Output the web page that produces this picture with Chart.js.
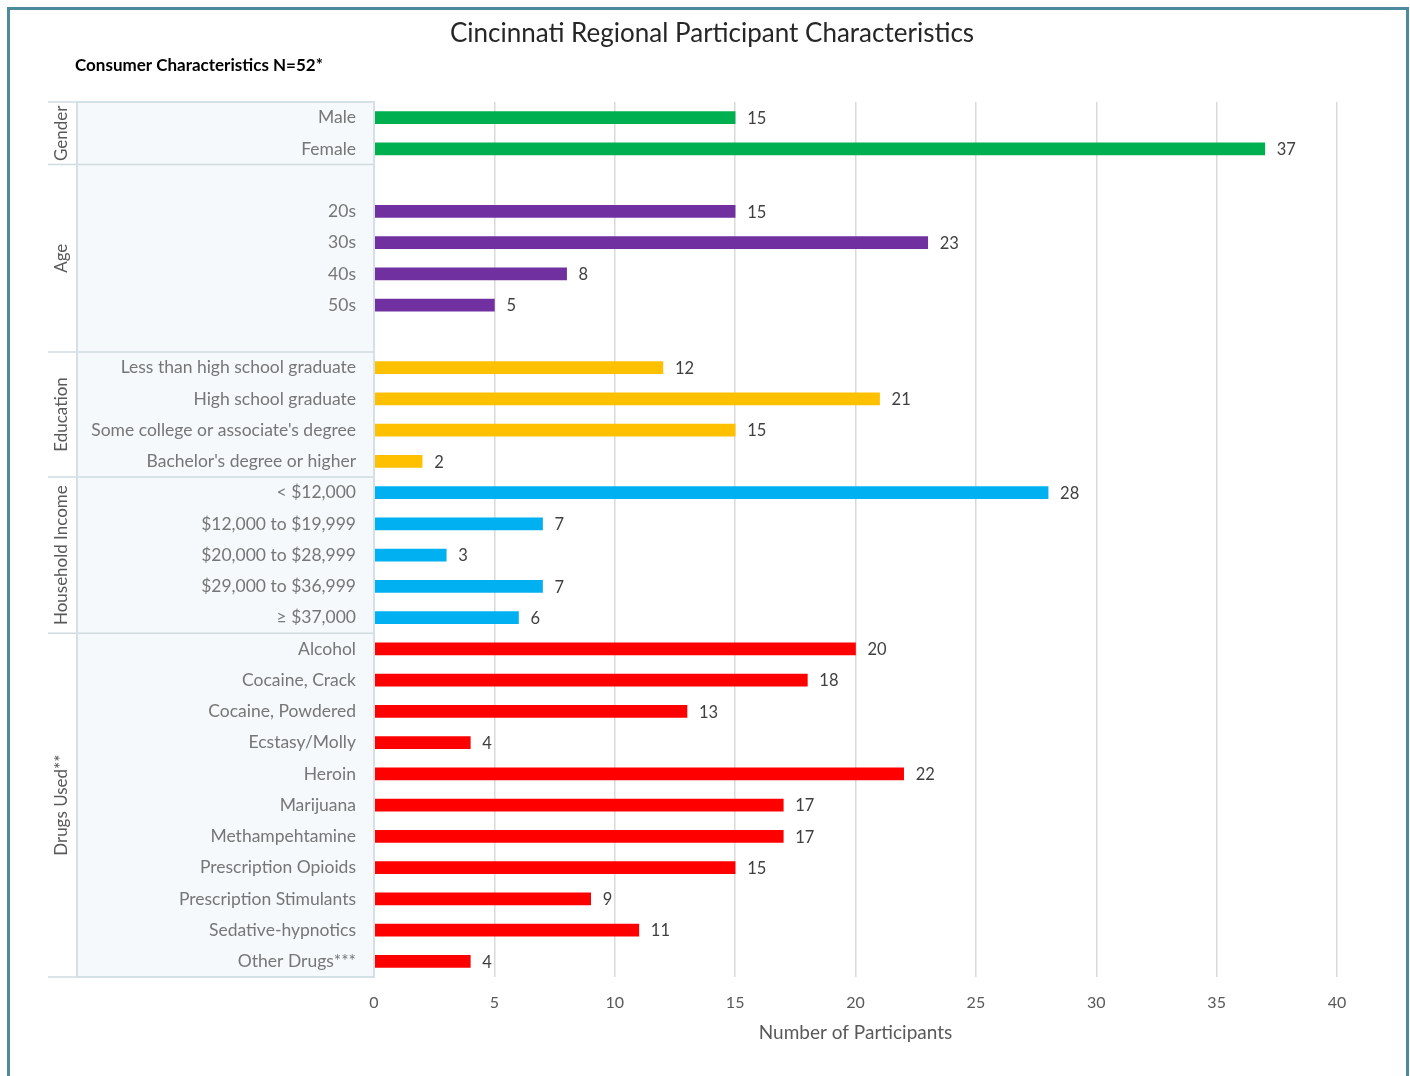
<!DOCTYPE html>
<html>
<head>
<meta charset="utf-8">
<script src="https://cdn.jsdelivr.net/npm/chart.js@4.4.0/dist/chart.umd.min.js"></script>
<style>
  html, body { margin: 0; padding: 0; background: #fff; }
  #frame { position: absolute; left: 7px; top: 7px; width: 1396px; height: 1100px; border: 3px solid #4d8a9b; }
  #wrap { position: absolute; left: 0; top: 0; width: 1410px; height: 1076px; }
</style>
</head>
<body>
<div id="frame"></div>
<div id="wrap"><canvas id="chart"></canvas></div>
<script>
// Values
const genderLabels = ['Male', 'Female'];
const genderValues = [15, 37];
const ageLabels = ['20s', '30s', '40s', '50s'];
const ageValues = [15, 23, 8, 5];
const educationLabels = ['Less than high school graduate', 'High school graduate', "Some college or associate's degree", "Bachelor's degree or higher"];
const educationValues = [12, 21, 15, 2];
const incomeLabels = ['< $12,000', '$12,000 to $19,999', '$20,000 to $28,999', '$29,000 to $36,999', '\u2265 $37,000'];
const incomeValues = [28, 7, 3, 7, 6];
const drugLabels = ['Alcohol', 'Cocaine, Crack', 'Cocaine, Powdered', 'Ecstasy/Molly', 'Heroin', 'Marijuana', 'Methampehtamine', 'Prescription Opioids', 'Prescription Stimulants', 'Sedative-hypnotics', 'Other Drugs***'];
const drugValues = [20, 18, 13, 4, 22, 17, 17, 15, 9, 11, 4];
const xTicks = [0, 5, 10, 15, 20, 25, 30, 35, 40];

const FONT = 'Lato, "Open Sans", sans-serif';

// groups: name, labels, values, colour, blank rows before/after
const groups = [
  { name: 'Gender', labels: genderLabels, values: genderValues, color: '#00b050', before: 0, after: 0 },
  { name: 'Age', labels: ageLabels, values: ageValues, color: '#7030a0', before: 1, after: 1 },
  { name: 'Education', labels: educationLabels, values: educationValues, color: '#ffc000', before: 0, after: 0 },
  { name: 'Household Income', labels: incomeLabels, values: incomeValues, color: '#00b0f0', before: 0, after: 0 },
  { name: 'Drugs Used**', labels: drugLabels, values: drugValues, color: '#ff0000', before: 0, after: 0 }
];

const labels = [], values = [], colors = [], spans = [];
groups.forEach(g => {
  const start = labels.length;
  for (let i = 0; i < g.before; i++) { labels.push(''); values.push(null); colors.push(g.color); }
  g.labels.forEach((l, i) => { labels.push(l); values.push(g.values[i]); colors.push(g.color); });
  for (let i = 0; i < g.after; i++) { labels.push(''); values.push(null); colors.push(g.color); }
  spans.push({ name: g.name, start: start, end: labels.length - 1 });
});

const PANEL_LEFT = 77;
const LINE_LEFT = 48;

const decorPlugin = {
  id: 'decor',
  beforeDraw(chart) {
    const { ctx, chartArea } = chart;
    ctx.save();
    ctx.fillStyle = '#f5f9fb';
    ctx.fillRect(PANEL_LEFT, chartArea.top, chartArea.left - PANEL_LEFT, chartArea.bottom - chartArea.top);
    ctx.restore();
  },
  afterDraw(chart) {
    const { ctx, chartArea, scales } = chart;
    const y = scales.y;
    const step = y.getPixelForValue(1) - y.getPixelForValue(0);
    ctx.save();

    // title + subtitle
    ctx.fillStyle = '#262626';
    ctx.font = '26px ' + FONT;
    ctx.textAlign = 'center';
    ctx.textBaseline = 'middle';
    ctx.fillText('Cincinnati Regional Participant Characteristics', 712, 34);
    ctx.fillStyle = '#000';
    ctx.font = 'bold 17px ' + FONT;
    ctx.textAlign = 'left';
    ctx.fillText('Consumer Characteristics N=52*', 75, 66);

    // group separators
    ctx.strokeStyle = '#cfdbe1';
    ctx.lineWidth = 1.5;
    const bounds = [chartArea.top];
    spans.forEach(s => bounds.push(y.getPixelForValue(s.end) + step / 2));
    bounds.forEach(b => {
      ctx.beginPath();
      ctx.moveTo(LINE_LEFT, b);
      ctx.lineTo(chartArea.left, b);
      ctx.stroke();
    });
    // panel border
    ctx.strokeStyle = '#d3e0e6';
    ctx.lineWidth = 2;
    ctx.strokeRect(PANEL_LEFT, chartArea.top, chartArea.left - PANEL_LEFT, chartArea.bottom - chartArea.top);

    // group names
    ctx.fillStyle = '#595959';
    ctx.font = '17px ' + FONT;
    ctx.textAlign = 'center';
    ctx.textBaseline = 'middle';
    spans.forEach(s => {
      const top = y.getPixelForValue(s.start) - step / 2;
      const bot = y.getPixelForValue(s.end) + step / 2;
      ctx.save();
      ctx.translate(62, (top + bot) / 2);
      ctx.rotate(-Math.PI / 2);
      ctx.fillText(s.name, 0, 0);
      ctx.restore();
    });

    // value labels
    ctx.fillStyle = '#404040';
    ctx.font = '16.5px ' + FONT;
    ctx.textAlign = 'left';
    const meta = chart.getDatasetMeta(0);
    meta.data.forEach((bar, i) => {
      if (values[i] === null) return;
      ctx.fillText(String(values[i]), bar.x + 12, bar.y + 1);
    });
    ctx.restore();
  }
};

new Chart(document.getElementById('chart'), {
  type: 'bar',
  data: {
    labels: labels,
    datasets: [{
      data: values,
      backgroundColor: colors,
      barThickness: 12
    }]
  },
  options: {
    indexAxis: 'y',
    responsive: true,
    maintainAspectRatio: false,
    animation: false,
    layout: { padding: { left: 0, right: 73, top: 102, bottom: 32 } },
    plugins: {
      legend: { display: false },
      tooltip: { enabled: false }
    },
    scales: {
      x: {
        min: 0,
        max: 40,
        afterBuildTicks: scale => { scale.ticks = xTicks.map(v => ({ value: v })); },
        grid: { color: '#d9d9d9', lineWidth: 1.5, drawTicks: false },
        border: { display: false },
        ticks: { color: '#595959', font: { family: FONT, size: 16 }, padding: 16 },
        title: {
          display: true,
          text: 'Number of Participants',
          color: '#595959',
          font: { family: FONT, size: 19 },
          padding: { top: -7, bottom: 0 }
        }
      },
      y: {
        afterFit: scale => { scale.width = 374; },
        grid: { display: false },
        border: { display: false },
        ticks: { color: '#767676', font: { family: FONT, size: 17.5 }, padding: 10, autoSkip: false }
      }
    }
  },
  plugins: [decorPlugin]
});
</script>
</body>
</html>
